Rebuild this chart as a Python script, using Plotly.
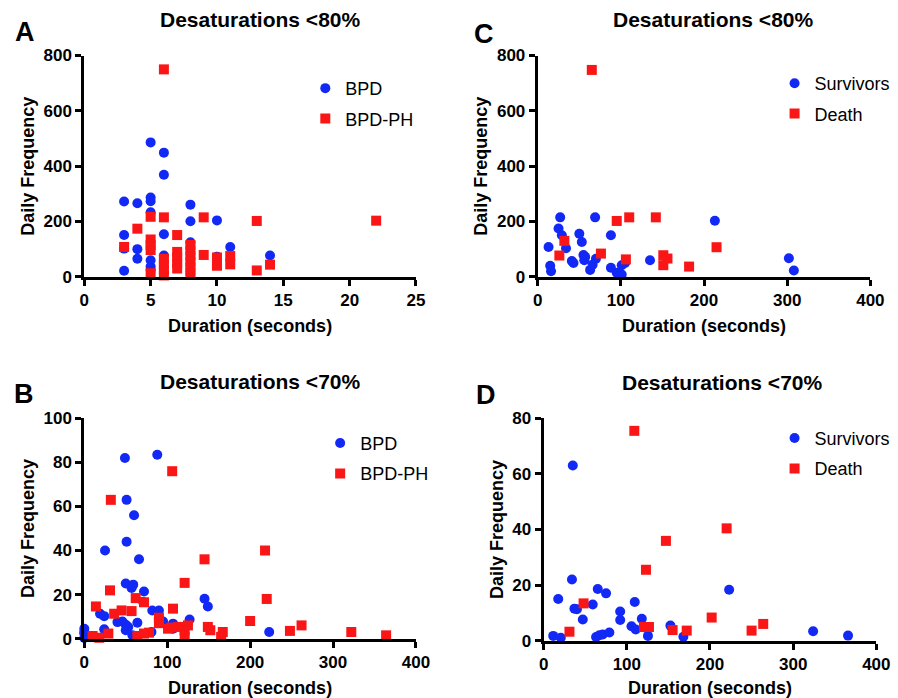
import plotly.graph_objects as go

# ---------------- Data ----------------
# Panel A: Desaturations <80%, BPD vs BPD-PH (duration in seconds, daily frequency)
a_bpd_x = [3, 3, 3, 3, 4, 4, 4, 5, 5, 5, 5, 5, 5, 5, 6, 6, 6, 6, 8, 8, 8, 8, 10, 10, 11, 14]
a_bpd_y = [272, 151, 102, 22, 266, 100, 65, 486, 287, 273, 233, 60, 37, 25, 449, 369, 154, 77, 261, 201, 125, 10, 204, 73, 108, 77]
a_ph_x = [3, 4, 5, 5, 5, 5, 5, 6, 6, 6, 6, 6, 6, 7, 7, 7, 7, 7, 8, 8, 8, 8, 8, 8, 9, 9, 10, 10, 11, 11, 13, 13, 14, 22]
a_ph_y = [108, 174, 217, 135, 115, 97, 13, 750, 215, 65, 45, 25, 5, 151, 90, 70, 50, 30, 115, 95, 75, 55, 35, 15, 215, 79, 70, 40, 75, 45, 202, 23, 44, 203]

# Panel C: Desaturations <80%, Survivors vs Death
c_surv_x = [13, 15, 16, 27, 25, 29, 34, 41, 43, 50, 53, 56, 55, 57, 63, 66, 70, 69, 88, 88, 95, 101, 101, 105, 135, 213, 302, 308]
c_surv_y = [108, 40, 20, 215, 175, 150, 103, 57, 50, 156, 126, 60, 79, 72, 25, 44, 65, 215, 150, 33, 15, 8, 42, 50, 60, 203, 67, 23]
c_death_x = [65, 26, 32, 76, 95, 110, 106, 142, 151, 156, 151, 182, 215]
c_death_y = [748, 77, 130, 84, 202, 215, 63, 215, 78, 66, 42, 37, 107]

# Panel B: Desaturations <70%, BPD vs BPD-PH
b_bpd_x = [49, 88, 51, 60, 51, 25, 66, 50, 59, 57, 72, 71, 145, 149, 19, 24, 24, 40, 46, 50, 53, 50, 64, 58, 81, 82, 90, 90, 95, 107, 107, 127, 0, 0, 0, 0, 223]
b_bpd_y = [82, 83.5, 63, 56, 44, 40, 36, 25, 24.5, 23, 21.4, 16.6, 18.1, 14.6, 11.3, 10.2, 4.2, 7.5, 7.8, 6.3, 5.3, 3.8, 7.2, 1.5, 3, 12.8, 12.8, 9.3, 7.8, 6.8, 4.5, 8.7, 4.5, 3, 2.3, 0.3, 3]
b_ph_x = [106, 32, 145, 218, 121, 31, 220, 62, 72, 14, 107, 36, 45, 57, 90, 90, 113, 121, 125, 121, 101, 105, 10, 18, 29, 64, 72, 78, 149, 152, 167, 165, 200, 248, 262, 322, 364]
b_ph_y = [76, 63, 36, 40, 25.3, 21.9, 18, 18.4, 16.5, 14.6, 13.6, 11.3, 12.8, 12.5, 9.5, 7, 5.3, 3.8, 6, 0.8, 4.5, 5, 1.2, 0.4, 2.3, 1.2, 2.3, 2.7, 5.3, 3.8, 3, 0.8, 8, 3.5, 6, 3, 1.5]

# Panel D: Desaturations <70%, Survivors vs Death
d_surv_x = [35, 34, 17.5, 37, 40, 47, 59, 65, 75, 92, 92, 109.5, 105.6, 110.7, 118, 125.4, 152.4, 168, 223, 324, 366, 11.5, 20.6, 63, 67, 71, 79]
d_surv_y = [63, 22, 15, 11.5, 11.3, 7.6, 13, 18.6, 17, 10.5, 7.4, 13.9, 5.2, 4, 7.9, 1.7, 5.4, 1.4, 18.3, 3.4, 1.8, 1.7, 1, 1.3, 1.9, 2.2, 2.9]
d_death_x = [109, 220, 147, 123, 48, 31, 120.6, 126.6, 155, 172, 202, 250, 264]
d_death_y = [75.5, 40.4, 35.9, 25.5, 13.4, 3.2, 4.9, 4.9, 3.8, 3.6, 8.3, 3.6, 6]

names_left = ["BPD", "BPD-PH"]
names_right = ["Survivors", "Death"]
panel_titles = ["Desaturations <80%", "Desaturations <80%", "Desaturations <70%", "Desaturations <70%"]
panel_letters = ["A", "C", "B", "D"]

BLUE = "rgb(18,40,245)"
RED = "rgb(250,22,22)"
FONT = "Liberation Sans, Arial, sans-serif"
W, H = 898, 698

# The photographed page shows the figure slightly inset/scaled; convert target
# screen pixels into paper fractions accordingly.
SX, OX = 0.9887, 2.9
SY, OY = 0.976, 8.3


def fx(p):
    return ((p - OX) / SX) / W


def fy(p):
    return 1 - ((p - OY) / SY) / H


fig = go.Figure()


def add_pair(xa, ya, xb, yb, names, axn, legend):
    xs = "x" if axn == 1 else f"x{axn}"
    ys = "y" if axn == 1 else f"y{axn}"
    fig.add_trace(go.Scatter(x=xa, y=ya, mode="markers", name=names[0], xaxis=xs, yaxis=ys,
                             legend=legend, legendgroup=f"{legend}a", cliponaxis=False,
                             marker=dict(symbol="circle", size=10, color=BLUE, line=dict(width=0))))
    fig.add_trace(go.Scatter(x=xb, y=yb, mode="markers", name=names[1], xaxis=xs, yaxis=ys,
                             legend=legend, legendgroup=f"{legend}b", cliponaxis=False,
                             marker=dict(symbol="square", size=10, color=RED, line=dict(width=0))))


add_pair(a_bpd_x, a_bpd_y, a_ph_x, a_ph_y, names_left, 1, "legend")
add_pair(c_surv_x, c_surv_y, c_death_x, c_death_y, names_right, 2, "legend2")
add_pair(b_bpd_x, b_bpd_y, b_ph_x, b_ph_y, names_left, 3, "legend3")
add_pair(d_surv_x, d_surv_y, d_death_x, d_death_y, names_right, 4, "legend4")

# target screen boxes for each plot area: (left, right, top, bottom)
boxes = {1: (83, 418, 55, 277), 2: (541, 877, 55, 277), 3: (83, 418, 419, 640), 4: (547, 883, 419, 642)}
ranges = {1: ([0, 25], 5, [0, 800], 200), 2: ([0, 400], 100, [0, 800], 200),
          3: ([0, 400], 100, [0, 100], 20), 4: ([0, 400], 100, [0, 80], 20)}

tickfont = dict(family=FONT, size=17, color="black", weight="bold")
titlefont = dict(family=FONT, size=18, color="black", weight="bold")
layout = {}
for n, (l, r, t, b) in boxes.items():
    xr, xd, yr, yd = ranges[n]
    xk = "xaxis" if n == 1 else f"xaxis{n}"
    yk = "yaxis" if n == 1 else f"yaxis{n}"
    xa = "x" if n == 1 else f"x{n}"
    ya = "y" if n == 1 else f"y{n}"
    common = dict(showline=True, linewidth=3, linecolor="black", ticks="outside", ticklen=6,
                  tickwidth=3, tickcolor="black", showgrid=False, zeroline=False,
                  tickfont=tickfont, fixedrange=True)
    layout[xk] = dict(domain=[fx(l), fx(r)], anchor=ya, range=xr, dtick=xd, tick0=0,
                      title=dict(text="Duration (seconds)", font=titlefont, standoff=11), **common)
    layout[yk] = dict(domain=[fy(b), fy(t)], anchor=xa, range=yr, dtick=yd, tick0=0,
                      title=dict(text="Daily Frequency", font=titlefont, standoff=5), **common)

legfont = dict(family=FONT, size=18, color="black")
# (marker centre x, first item centre y) on screen
legpos = {"legend": (326, 88), "legend2": (800, 83), "legend3": (341, 444), "legend4": (800, 439)}
for k, (mx, my) in legpos.items():
    layout[k] = dict(x=fx(mx) - 20 / W, y=fy(my) + 19 / H, xanchor="left", yanchor="top", font=legfont,
                     bgcolor="rgba(0,0,0,0)", borderwidth=0, tracegroupgap=4, itemclick=False)

annotations = []
title_pos = [(260, 19), (718, 19), (260, 382), (727, 383)]
letter_pos = [(23, 31), (487, 33), (22, 395), (489, 396)]
for txt, (x, y) in zip(panel_titles, title_pos):
    annotations.append(dict(text=txt, x=fx(x), y=fy(y), xref="paper", yref="paper",
                            showarrow=False, xanchor="center", yanchor="middle",
                            font=dict(family=FONT, size=21, color="black", weight="bold")))
for txt, (x, y) in zip(panel_letters, letter_pos):
    annotations.append(dict(text=txt, x=fx(x), y=fy(y), xref="paper", yref="paper",
                            showarrow=False, xanchor="center", yanchor="middle",
                            font=dict(family=FONT, size=27, color="black", weight="bold")))

fig.update_layout(**layout)
fig.update_layout(width=W, height=H, margin=dict(l=0, r=0, t=0, b=0), showlegend=True,
                  paper_bgcolor="white", plot_bgcolor="white", annotations=annotations,
                  font=dict(family=FONT, color="black"))

fig.write_html("out.html", config={"displayModeBar": False})
